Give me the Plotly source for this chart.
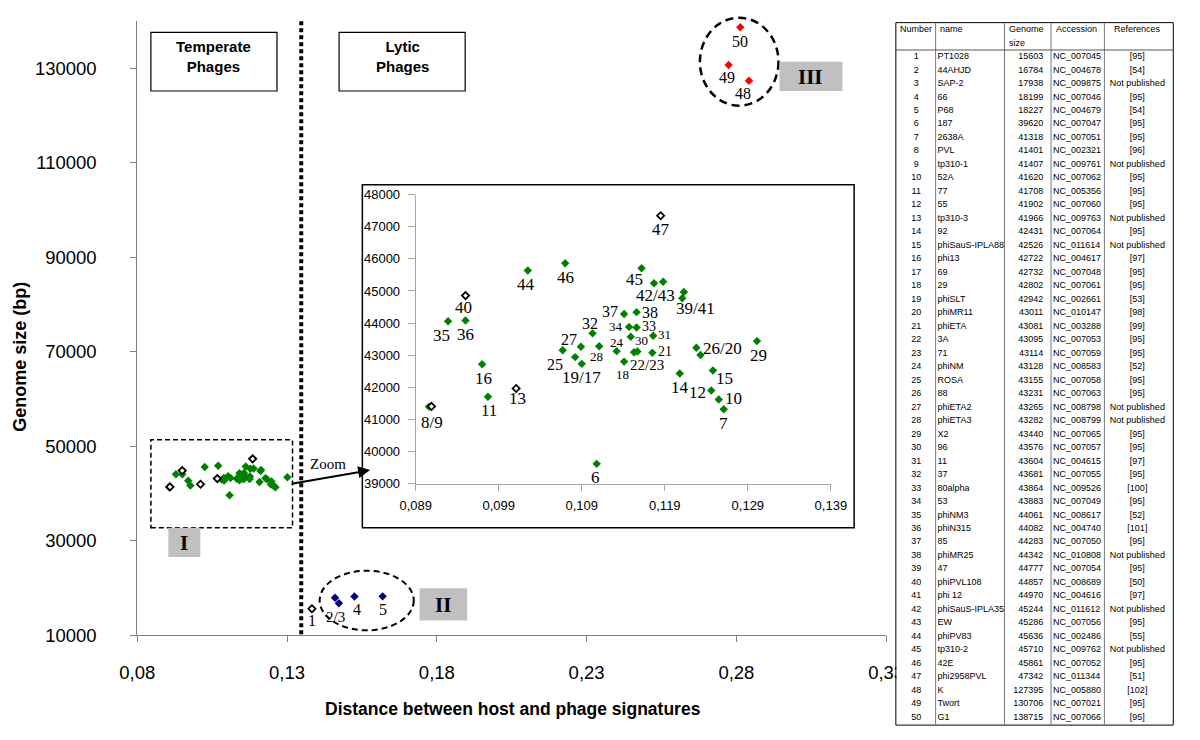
import plotly.graph_objects as go

# ---------------- data ----------------
numbers = list(range(1, 51))
names = ["PT1028", "44AHJD", "SAP-2", "66", "P68", "187", "2638A", "PVL", "tp310-1", "52A",
         "77", "55", "tp310-3", "92", "phiSauS-IPLA88", "phi13", "69", "29", "phiSLT", "phiMR11",
         "phiETA", "3A", "71", "phiNM", "ROSA", "88", "phiETA2", "phiETA3", "X2", "96",
         "11", "37", "80alpha", "53", "phiNM3", "phiN315", "85", "phiMR25", "47", "phiPVL108",
         "phi 12", "phiSauS-IPLA35", "EW", "phiPV83", "tp310-2", "42E", "phi2958PVL", "K", "Twort", "G1"]
genome_size = [15603, 16784, 17938, 18199, 18227, 39620, 41318, 41401, 41407, 41620,
               41708, 41902, 41966, 42431, 42526, 42722, 42732, 42802, 42942, 43011,
               43081, 43095, 43114, 43128, 43155, 43231, 43265, 43282, 43440, 43576,
               43604, 43681, 43864, 43883, 44061, 44082, 44283, 44342, 44777, 44857,
               44970, 45244, 45286, 45636, 45710, 45861, 47342, 127395, 130706, 138715]
accession = ["NC_007045", "NC_004678", "NC_009875", "NC_007046", "NC_004679", "NC_007047", "NC_007051", "NC_002321", "NC_009761", "NC_007062",
             "NC_005356", "NC_007060", "NC_009763", "NC_007064", "NC_011614", "NC_004617", "NC_007048", "NC_007061", "NC_002661", "NC_010147",
             "NC_003288", "NC_007053", "NC_007059", "NC_008583", "NC_007058", "NC_007063", "NC_008798", "NC_008799", "NC_007065", "NC_007057",
             "NC_004615", "NC_007055", "NC_009526", "NC_007049", "NC_008617", "NC_004740", "NC_007050", "NC_010808", "NC_007054", "NC_008689",
             "NC_004616", "NC_011612", "NC_007056", "NC_002486", "NC_009762", "NC_007052", "NC_011344", "NC_005880", "NC_007021", "NC_007066"]
NP = "Not published"
references = ["[95]", "[54]", NP, "[95]", "[54]", "[95]", "[95]", "[96]", NP, "[95]",
              "[95]", "[95]", NP, "[95]", NP, "[97]", "[95]", "[95]", "[53]", "[98]",
              "[99]", "[95]", "[95]", "[52]", "[95]", "[95]", NP, NP, "[95]", "[95]",
              "[97]", "[95]", "[100]", "[95]", "[52]", "[101]", "[95]", NP, "[95]", "[50]",
              "[97]", NP, "[95]", "[55]", NP, "[95]", "[51]", "[102]", "[95]", "[95]"]
distance = [0.1383, 0.1473, 0.1460, 0.1525, 0.1619, 0.1108, 0.1261, 0.0906, 0.0909, 0.1255,
            0.0977, 0.1246, 0.1011, 0.1208, 0.1248, 0.0970, 0.1090, 0.1141, 0.1082, 0.1233,
            0.1175, 0.1153, 0.1157, 0.1132, 0.1067, 0.1228, 0.1089, 0.1111, 0.1301, 0.1149,
            0.1176, 0.1103, 0.1156, 0.1147, 0.0929, 0.0950, 0.1141, 0.1156, 0.1211, 0.0950,
            0.1213, 0.1177, 0.1188, 0.1025, 0.1162, 0.1070, 0.1185, 0.2842, 0.2774, 0.2813]
marker_class = (["open", "blue", "blue", "blue", "blue",
                 "green", "green", "green", "open", "green",
                 "green", "green", "open", "green", "green",
                 "green", "green", "green", "green", "green",
                 "green", "green", "green", "green", "green",
                 "green", "green", "green", "green", "green",
                 "green", "green", "green", "green", "green",
                 "green", "green", "green", "green", "open",
                 "green", "green", "green", "green", "green",
                 "green", "open", "red", "red", "red"])
main_extra_open = [25]
inset_numbers = list(range(6, 48))

x_ticks_main = [0.08, 0.13, 0.18, 0.23, 0.28, 0.33]
y_ticks_main = [10000, 30000, 50000, 70000, 90000, 110000, 130000]
x_ticks_inset = [0.089, 0.099, 0.109, 0.119, 0.129, 0.139]
y_ticks_inset = [39000, 40000, 41000, 42000, 43000, 44000, 45000, 46000, 47000, 48000]

# point labels: (text, anchor number, dx px, dy px (down), font size)
inset_labels = [
    ("8/9", 9, 1, 16, 17), ("35", 35, -7, 14, 17), ("36", 36, 0, 14, 17), ("40", 40, -2, 12, 17),
    ("16", 16, 1, 14, 17), ("11", 11, 1, 14, 17), ("13", 13, 1, 10, 17), ("44", 44, -2, 14, 17),
    ("46", 46, 0, 14, 17), ("47", 47, 0, 14, 17), ("45", 45, -7, 11, 17), ("42/43", 42, 1, 12, 17),
    ("39/41", 39, 13, 10, 17), ("37", 37, -14, -3, 16), ("38", 38, 13, 0, 16), ("34", 34, -13, 0, 13),
    ("33", 33, 12, -1, 14), ("30", 30, 11, 4, 13), ("31", 31, 11, -1, 13), ("32", 32, -3, -10, 16),
    ("27", 27, -12, -7, 16), ("28", 28, -3, 10, 13), ("25", 25, -8, 14, 16), ("24", 24, 0, -9, 13),
    ("22/23", 22, 13, 13, 15), ("21", 21, 13, -1, 14), ("19/17", 17, 0, 14, 17), ("18", 18, -2, 13, 13),
    ("26/20", 26, 26, 1, 17), ("29", 29, 2, 14, 17), ("14", 14, 0, 14, 17), ("15", 15, 12, 8, 17),
    ("12", 12, -14, 2, 17), ("10", 10, 15, -1, 17), ("7", 7, 0, 14, 17), ("6", 6, -1, 14, 17),
]
main_labels = [("1", 1, 0, 12, 16), ("2/3", 2, -3, 14, 15), ("4", 4, 3, 13, 16), ("5", 5, 0, 13, 16),
               ("50", 50, 0, 14, 16), ("49", 49, -2, 12, 16), ("48", 48, -6, 13, 16)]

# ---------------- layout geometry (pixels) ----------------
W, H = 1200, 740
def PX(p): return p / W
def PY(p): return 1 - p / H

SERIF = "Liberation Serif, Times New Roman, serif"
SANS = "Liberation Sans, Arial, sans-serif"

styles = {
    "green": dict(symbol="diamond", size=6.5, color="#008000", line=dict(width=0)),
    "blue": dict(symbol="diamond", size=6.5, color="#000080", line=dict(width=0)),
    "red": dict(symbol="diamond", size=6.5, color="#FF0000", line=dict(width=0)),
    "open": dict(symbol="diamond", size=5.5, color="white", line=dict(width=1.8, color="black")),
}

fig = go.Figure()
# main chart
for cls in ["green", "blue", "red", "open"]:
    idx = [i for i in range(50) if marker_class[i] == cls or (cls == "open" and numbers[i] in main_extra_open)]
    fig.add_trace(go.Scatter(x=[distance[i] for i in idx], y=[genome_size[i] for i in idx],
                             mode="markers", marker=styles[cls], xaxis="x", yaxis="y",
                             cliponaxis=False, hoverinfo="skip", showlegend=False))
# inset
for cls in ["green", "open"]:
    idx = [n - 1 for n in inset_numbers if marker_class[n - 1] == cls]
    fig.add_trace(go.Scatter(x=[distance[i] for i in idx], y=[genome_size[i] for i in idx],
                             mode="markers", marker=styles[cls], xaxis="x2", yaxis="y2",
                             cliponaxis=False, hoverinfo="skip", showlegend=False))

# table (x in pixels, y in row numbers)
ROW1, STEP = 51, 13.8
tfont = dict(family=SANS, size=9, color="black")
cols = [
    (926, [str(n) for n in numbers], "middle center"),
    (948, names, "middle right"),
    (1057, [str(g) for g in genome_size], "middle left"),
    (1067, accession, "middle right"),
    (1154, references, "middle center"),
]
for xc, texts, pos in cols:
    fig.add_trace(go.Scatter(x=[xc] * 50, y=numbers, text=texts, mode="text", textposition=pos,
                             textfont=tfont, xaxis="x3", yaxis="y3", hoverinfo="skip",
                             showlegend=False, cliponaxis=False))

axis_common = dict(showgrid=False, zeroline=False, showline=True, ticks="outside")
fig.update_layout(
    width=W, height=H, margin=dict(l=0, r=0, t=0, b=0),
    paper_bgcolor="white", plot_bgcolor="rgba(0,0,0,0)", separators=",.",
    xaxis=dict(domain=[PX(123), PX(895)], range=[0.08, 0.33], anchor="y", tickvals=x_ticks_main,
               tickformat=".2f", linecolor="#808080", tickcolor="#808080", ticklen=6,
               tickfont=dict(family=SANS, size=18.5, color="black"), ticklabelstandoff=15, **axis_common),
    yaxis=dict(domain=[PY(643), PY(14.5)], range=[10000, 140000], anchor="x", tickvals=y_ticks_main,
               tickformat="d", linecolor="#808080", tickcolor="#808080", ticklen=6,
               tickfont=dict(family=SANS, size=18.5, color="black"), ticklabelstandoff=30, **axis_common),
    xaxis2=dict(domain=[PX(410), PX(838)], range=[0.089, 0.139], anchor="y2", tickvals=x_ticks_inset,
                tickformat=".3f", linecolor="#a6a6a6", tickcolor="#a6a6a6", ticklen=6,
                tickfont=dict(family=SANS, size=13, color="black"), ticklabelstandoff=4, **axis_common),
    yaxis2=dict(domain=[PY(488), PY(192)], range=[39000, 48000], anchor="x2", tickvals=y_ticks_inset,
                tickformat="d", linecolor="#a6a6a6", tickcolor="#a6a6a6", ticklen=7,
                tickfont=dict(family=SANS, size=13, color="black"), ticklabelstandoff=5, **axis_common),
    xaxis3=dict(domain=[0, 1], range=[0, W], visible=False, anchor="y3", fixedrange=True),
    yaxis3=dict(domain=[0, 1], range=[1 + (H - ROW1) / STEP, 1 - ROW1 / STEP], visible=False,
                anchor="x3", fixedrange=True),
)

shapes = []
def rect(x0, y0, x1, y1, **kw):
    d = dict(type="rect", xref="paper", yref="paper", x0=PX(x0), x1=PX(x1), y0=PY(y1), y1=PY(y0))
    d.update(kw)
    shapes.append(d)
def line(x0, y0, x1, y1, **kw):
    d = dict(type="line", xref="paper", yref="paper", x0=PX(x0), x1=PX(x1), y0=PY(y0), y1=PY(y1))
    d.update(kw)
    shapes.append(d)
def ellipse(x0, y0, x1, y1, **kw):
    d = dict(type="circle", xref="paper", yref="paper", x0=PX(x0), x1=PX(x1), y0=PY(y1), y1=PY(y0))
    d.update(kw)
    shapes.append(d)

# inset frame
rect(355, 182, 862, 533, line=dict(color="black", width=1.5), fillcolor="white", layer="below")
# phage type boxes
rect(137, 26, 267, 86, line=dict(color="black", width=1.2), fillcolor="white", layer="below")
rect(331, 26, 461, 86, line=dict(color="black", width=1.2), fillcolor="white", layer="below")
# divider
line(292, 14.5, 292, 643, line=dict(color="black", width=4, dash="4px,3px"), layer="below")
# zoom region I
rect(137, 443, 283, 533, line=dict(color="black", width=1.5, dash="5px,3px"), layer="below")
# ellipses
ellipse(311, 577, 408, 638, line=dict(color="black", width=2, dash="6px,4px"), layer="below")
ellipse(703, 11, 784, 101, line=dict(color="black", width=2.5, dash="8px,5px"), layer="below")
# grey group boxes
rect(155, 533, 188, 563, line=dict(width=0), fillcolor="#c0c0c0", layer="below")
rect(414, 595, 463, 628, line=dict(width=0), fillcolor="#c0c0c0", layer="below")
rect(785, 56, 850, 86, line=dict(width=0), fillcolor="#c0c0c0", layer="below")
# table lines
rect(905.5, 658, 914, 688, line=dict(width=0), fillcolor="white", layer="above")
rect(905, 16, 1191, 735, line=dict(color="black", width=1), layer="above")
for xv in [946, 1017, 1065, 1120]:
    line(xv, 16, xv, 735, line=dict(color="#777777", width=1), layer="above")
line(905, 44, 1191, 44, line=dict(color="#555555", width=1), layer="above")
fig.update_layout(shapes=shapes)

ann = []
def text(x, y, s, size, family=SANS, bold=False, **kw):
    d = dict(xref="paper", yref="paper", x=PX(x), y=PY(y), text=("<b>%s</b>" % s) if bold else s,
             showarrow=False, font=dict(family=family, size=size, color="black"),
             xanchor="center", yanchor="middle")
    d.update(kw)
    ann.append(d)

text(202, 51, "Temperate<br>Phages", 15, bold=True)
text(396, 51, "Lytic<br>Phages", 15, bold=True)
text(171.5, 549, "I", 21, family=SERIF, bold=True)
text(438.5, 612, "II", 21, family=SERIF, bold=True)
text(817.5, 72, "III", 21, family=SERIF, bold=True)
text(320, 468, "Zoom", 15, family=SERIF)
text(510, 718, "Distance between host and phage signatures", 17.5, bold=True)
text(2, 358, "Genome size (bp)", 18, bold=True, textangle=-90)
ann.append(dict(xref="paper", yref="paper", x=PX(363), y=PY(474), ax=-80, ay=14, axref="pixel", ayref="pixel",
                showarrow=True, arrowhead=2, arrowsize=1.2, arrowwidth=2, arrowcolor="black", text=""))
# table header
text(926, 23, "Number", 9)
text(948, 23, "name", 9, xanchor="left")
text(1020, 23, "Genome", 9, xanchor="left")
text(1020, 37, "size", 9, xanchor="left")
text(1068, 23, "Accession", 9, xanchor="left")
text(1154, 23, "References", 9)

for s, n, dx, dy, fs in inset_labels:
    ann.append(dict(xref="x2", yref="y2", x=distance[n - 1], y=genome_size[n - 1], text=s, showarrow=False,
                    xshift=dx, yshift=-dy, font=dict(family=SERIF, size=fs, color="black")))
for s, n, dx, dy, fs in main_labels:
    ann.append(dict(xref="x", yref="y", x=distance[n - 1], y=genome_size[n - 1], text=s, showarrow=False,
                    xshift=dx, yshift=-dy, font=dict(family=SERIF, size=fs, color="black")))
fig.update_layout(annotations=ann)

fig.write_html("out.html", include_plotlyjs=True, config={"displayModeBar": False},
               post_script="document.body.style.margin='0';document.body.style.overflow='hidden';")
